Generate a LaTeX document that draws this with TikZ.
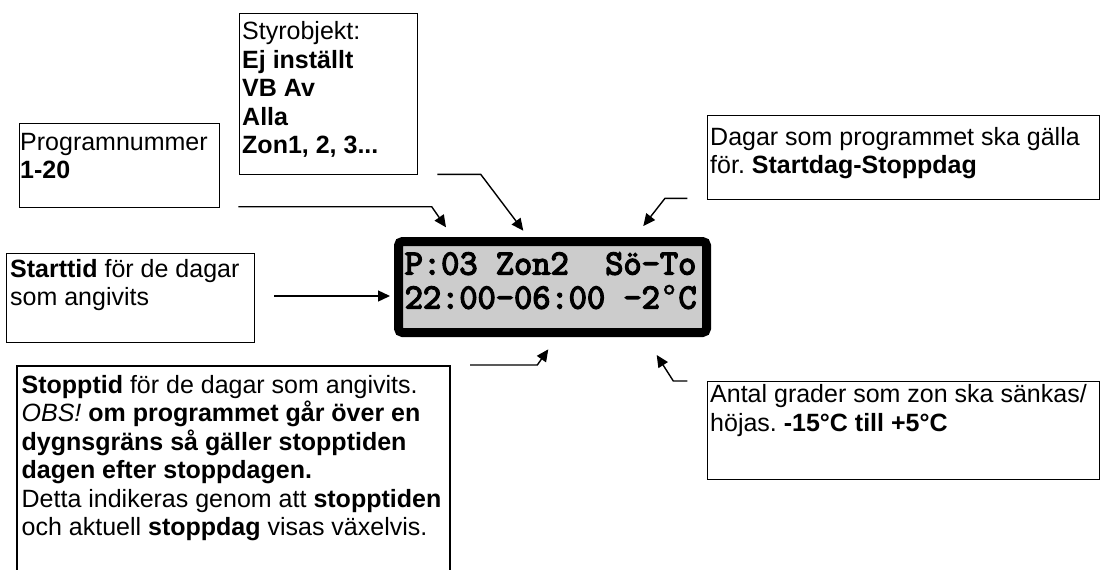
\documentclass[tikz,border=0pt]{standalone}
\usepackage{fontspec}
\setmainfont{Liberation Sans}
\newfontfamily\lcdfont[FakeBold=4]{Latin Modern Mono}
\newfontfamily\lcddegfont[FakeBold=1]{Liberation Mono}
\newcommand{\lcddeg}{\makebox[0.525em][c]{\lcddegfont °}}
\usetikzlibrary{arrows.meta}
\definecolor{lcdgray}{HTML}{CCCCCC}
\frenchspacing
\begin{document}
\begin{tikzpicture}[x=1pt,y=-1pt,
  box/.style={draw=black, line width=1.4pt, rectangle, inner sep=0pt, anchor=north west},
  txt/.style={anchor=north west, inner sep=0pt, align=left,
    font=\fontsize{25}{28.5}\selectfont},
  lcdtxt/.style={anchor=north west, inner sep=0pt, align=left,
    font=\fontsize{35.4}{34}\selectfont\lcdfont},
  arr/.style={line width=1.4pt, -{Triangle[length=12pt,width=11pt]}},
  lcd/.style={draw=black, fill=lcdgray, line width=9pt, rounded corners=4pt,
    minimum width=308pt, minimum height=91pt, inner sep=0pt}]
\useasboundingbox (0,0) rectangle (1101,570);

% boxes
\node[box, minimum width=200pt, minimum height=84pt] (prog) at (19,123) {};
\node[box, minimum width=178pt, minimum height=161pt] (styr) at (239,13) {};
\node[box, minimum width=392pt, minimum height=84pt] (dagar) at (707,115) {};
\node[box, minimum width=248pt, minimum height=89pt] (start) at (6,253) {};
\node[box, minimum width=392pt, minimum height=98pt] (antal) at (707,381) {};
\coordinate (stopbl) at (17,571);
\coordinate (stoptl) at (17,366);
\coordinate (stoptr) at (450,366);
\coordinate (stopbr) at (450,571);
\draw[line width=1.4pt] (stopbl) -- (stoptl) -- (stoptr) -- (stopbr);

% texts
\node[txt] (progt) at (20,126) {\rule{0pt}{24pt}Programnummer\\\textbf{1-20}};
\node[txt] (styrt) at (242,15.3) {\rule{0pt}{24pt}Styrobjekt:\\\textbf{Ej inställt}\\\textbf{VB Av}\\\textbf{Alla}\\\textbf{Zon1, 2, 3...}};
\node[txt] (dagart) at (710,121) {\rule{0pt}{24pt}Dagar som programmet ska gälla\\för. \textbf{Startdag-Stoppdag}};
\node[txt] (startt) at (10,253) {\rule{0pt}{24pt}\textbf{Starttid} för de dagar\\som angivits};
\node[txt] (stopt) at (21.5,369) {\rule{0pt}{24pt}\textbf{Stopptid} för de dagar som angivits.\\\textit{OBS!} \textbf{om programmet går över en}\\\textbf{dygnsgräns så gäller stopptiden}\\\textbf{dagen efter stoppdagen.}\\Detta indikeras genom att \textbf{stopptiden}\\och aktuell \textbf{stoppdag} visas växelvis.};
\node[txt] (antalt) at (710,378.7) {\rule{0pt}{24pt}Antal grader som zon ska sänkas/\\höjas. \textbf{-15°C till +5°C}};

% LCD
\node[lcd] (lcd) at (552.5,287) {};
\node[lcdtxt] (lcdt) at (404.5,246.3) {\rule{0pt}{28pt}P:03~Zon2~~Sö-To\\22:00-06:00~-2\lcddeg C};

% arrows
\coordinate (a1) at (238.3,206.7);
\coordinate (a2) at (431.7,206.7);
\coordinate (a3) at (446,227.3);
\draw[arr] (a1) -- (a2) -- (a3);
\coordinate (b1) at (437.3,174.3);
\coordinate (b2) at (480.7,174.3);
\coordinate (b3) at (523.3,230.7);
\draw[arr] (b1) -- (b2) -- (b3);
\coordinate (c1) at (687.3,198.3);
\coordinate (c2) at (665,198.3);
\coordinate (c3) at (643.3,226);
\draw[arr] (c1) -- (c2) -- (c3);
\coordinate (d1) at (274.3,296);
\coordinate (d2) at (390,296);
\draw[arr] (d1) -- (d2);
\coordinate (e1) at (470,365);
\coordinate (e2) at (537.3,365);
\coordinate (e3) at (548.3,349.3);
\draw[arr] (e1) -- (e2) -- (e3);
\coordinate (f1) at (687.3,381);
\coordinate (f2) at (673.3,381);
\coordinate (f3) at (656.7,355);
\draw[arr] (f1) -- (f2) -- (f3);
\end{tikzpicture}
\end{document}
